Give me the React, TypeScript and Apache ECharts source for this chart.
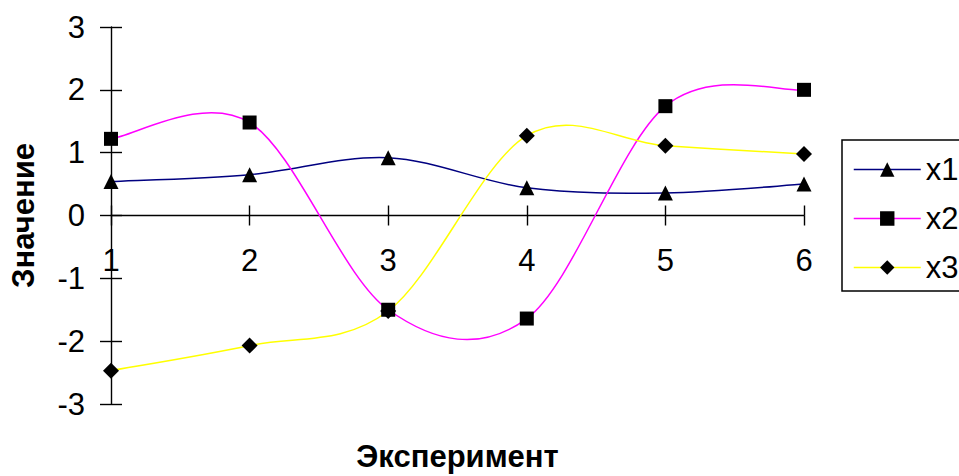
import React, { useEffect, useRef } from "react";
import * as echarts from "echarts";

const experiments = [1, 2, 3, 4, 5, 6];
const x1Values = [0.54, 0.65, 0.92, 0.44, 0.36, 0.5];
const x2Values = [1.22, 1.48, -1.5, -1.64, 1.74, 2.0];
const x3Values = [-2.47, -2.07, -1.52, 1.27, 1.11, 0.98];
const seriesNames = ["x1", "x2", "x3"];
const yTicks = { min: -3, max: 3, step: 1 };
const xTitle = "Эксперимент";
const yTitle = "Значение";

const FONT = 'Arial, "Liberation Sans", sans-serif';
const lineColors = ["#000080", "#FF00FF", "#FFFF00"];
const symbols = ["triangle", "rect", "diamond"];
const symbolSizes = [15, 14, 16];

const GRID_TOP = 27;
const GRID_BOTTOM = 72;
const CHART_H = 476;

function curveSeries(vals: number[], color: string) {
  return {
    type: "custom",
    coordinateSystem: "cartesian2d",
    data: [[experiments[0], vals[0]]],
    z: 1,
    silent: true,
    clip: true,
    renderItem: (_params: any, api: any) => {
      const pts = vals.map((v, i) => api.coord([experiments[i], v]));
      let d = `M${pts[0][0]},${pts[0][1]}`;
      for (let i = 0; i < pts.length - 1; i++) {
        const p0 = pts[Math.max(i - 1, 0)];
        const p1 = pts[i];
        const p2 = pts[i + 1];
        const p3 = pts[Math.min(i + 2, pts.length - 1)];
        const c1x = p1[0] + (p2[0] - p0[0]) / 6;
        const c1y = p1[1] + (p2[1] - p0[1]) / 6;
        const c2x = p2[0] - (p3[0] - p1[0]) / 6;
        const c2y = p2[1] - (p3[1] - p1[1]) / 6;
        d += ` C${c1x},${c1y} ${c2x},${c2y} ${p2[0]},${p2[1]}`;
      }
      return {
        type: "path",
        shape: { pathData: d },
        style: { fill: "none", stroke: color, lineWidth: 1.5 },
      };
    },
  };
}

export default function App() {
  const ref = useRef<HTMLDivElement>(null);
  useEffect(() => {
    if (!ref.current) return;
    const chart = echarts.init(ref.current, null, { renderer: "svg" });
    const allVals = [x1Values, x2Values, x3Values];
    const axisLineStyle = { color: "#000", width: 1.4 };
    const labelStyle = { fontSize: 31, color: "#000", fontFamily: FONT };
    const nameStyle = { fontSize: 31, fontWeight: "bold" as const, color: "#000", fontFamily: FONT };
    // place the x axis on the y = 0 line of the plot
    const plotH = CHART_H - GRID_TOP - GRID_BOTTOM;
    const zeroOffset = -plotH * ((0 - yTicks.min) / (yTicks.max - yTicks.min));
    chart.setOption({
      animation: false,
      backgroundColor: "#fff",
      textStyle: { fontFamily: FONT },
      grid: {
        left: 111,
        right: 155,
        top: GRID_TOP,
        bottom: GRID_BOTTOM,
        containLabel: false,
        outerBoundsMode: "none",
      },
      legend: {
        orient: "vertical",
        left: 842,
        top: 140,
        padding: [14, 40, 8, 11],
        itemWidth: 67,
        itemHeight: 18,
        itemGap: 18,
        borderColor: "#000",
        borderWidth: 1.5,
        textStyle: { fontSize: 31, color: "#000", fontFamily: FONT },
        selectedMode: false,
        data: seriesNames.map((n, i) => ({
          name: n,
          lineStyle: { color: lineColors[i], width: 1.5, opacity: 1 },
        })),
      },
      xAxis: [
        {
          type: "value",
          min: experiments[0],
          max: experiments[experiments.length - 1],
          interval: 1,
          position: "bottom",
          offset: zeroOffset,
          splitLine: { show: false },
          axisLine: { show: true, onZero: false, lineStyle: axisLineStyle },
          axisTick: { show: true, length: 10, lineStyle: axisLineStyle },
          axisLabel: { ...labelStyle, margin: 29 },
          name: xTitle,
          nameLocation: "middle",
          nameGap: 225,
          nameTextStyle: nameStyle,
        },
        {
          type: "value",
          min: experiments[0],
          max: experiments[experiments.length - 1],
          interval: 1,
          position: "bottom",
          offset: zeroOffset,
          splitLine: { show: false },
          axisLine: { show: false, onZero: false },
          axisTick: { show: true, inside: true, length: 10, lineStyle: axisLineStyle },
          axisLabel: { show: false },
        },
      ],
      yAxis: [
        {
          type: "value",
          min: yTicks.min,
          max: yTicks.max,
          interval: yTicks.step,
          position: "left",
          splitLine: { show: false },
          axisLine: { show: true, onZero: false, lineStyle: axisLineStyle },
          axisTick: { show: true, length: 11, lineStyle: axisLineStyle },
          axisLabel: { ...labelStyle, margin: 26 },
          name: yTitle,
          nameLocation: "middle",
          nameGap: 72,
          nameTextStyle: nameStyle,
        },
        {
          type: "value",
          min: yTicks.min,
          max: yTicks.max,
          interval: yTicks.step,
          position: "left",
          splitLine: { show: false },
          axisLine: { show: false, onZero: false },
          axisTick: { show: true, inside: true, length: 11, lineStyle: axisLineStyle },
          axisLabel: { show: false },
        },
      ],
      series: [
        ...allVals.map((vals, i) => curveSeries(vals, lineColors[i])),
        ...allVals.map((vals, i) => ({
          type: "line",
          name: seriesNames[i],
          data: experiments.map((e, j) => [e, vals[j]]),
          symbol: symbols[i],
          symbolSize: symbolSizes[i],
          showSymbol: true,
          z: 3,
          itemStyle: { color: "#000" },
          lineStyle: { color: lineColors[i], width: 1.5, opacity: 0 },
          emphasis: { disabled: true },
        })),
      ],
    });
    return () => chart.dispose();
  }, []);
  return (
    <div
      ref={ref}
      style={{ position: "fixed", left: 0, top: 0, width: 959, height: 476, background: "#fff" }}
    />
  );
}
